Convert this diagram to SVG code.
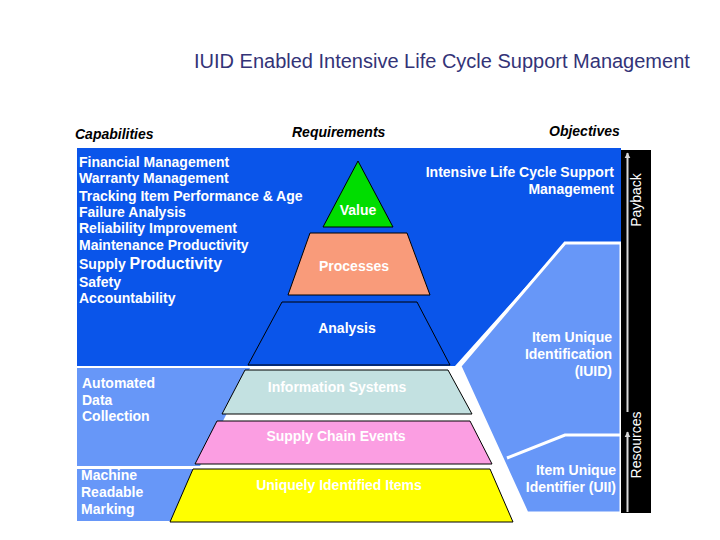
<svg xmlns="http://www.w3.org/2000/svg" width="720" height="540" viewBox="0 0 720 540">
<style>
.t{font-family:"Liberation Sans",Arial,sans-serif;font-weight:bold;font-size:14px;fill:#ffffff}
.h{font-family:"Liberation Sans",Arial,sans-serif;font-weight:bold;font-style:italic;font-size:14px;fill:#000000}
.r{font-family:"Liberation Sans",Arial,sans-serif;font-size:14px;fill:#ffffff}
.m{text-anchor:middle}
.e{text-anchor:end}
.pyr{stroke:#000000;stroke-width:1}
</style>
<defs>
<marker id="ah" viewBox="0 0 10 10" refX="9" refY="5" markerWidth="6" markerHeight="7" orient="auto" markerUnits="userSpaceOnUse">
<path d="M0,0 L10,5 L0,10 z" fill="#d8d8d8"/>
</marker>
</defs>
<rect width="720" height="540" fill="#ffffff"/>
<text x="194" y="68" style="font-family:'Liberation Sans',Arial,sans-serif;font-size:20px;fill:#333377">IUID Enabled Intensive Life Cycle Support Management</text>
<g id="headers">
<text class="h" x="75" y="139">Capabilities</text>
<text class="h" x="292" y="137">Requirements</text>
<text class="h" x="549" y="136">Objectives</text>
</g>
<g id="backgrounds">
<polygon points="77,148 621,148 621,243 565,243 455,366 77,366" fill="#0a55ea"/>
<polygon points="77,368 250,368 200,466 77,466" fill="#6797f8"/>
<polygon points="77,469 205,469 180,521 77,521" fill="#6797f8"/>
<polygon points="565,243 621,243 621,513 527,513 460,366" fill="#6797f8" stroke="#ffffff" stroke-width="3" stroke-linejoin="miter"/>
<polyline points="507,458 565,435 621,435" fill="none" stroke="#ffffff" stroke-width="3"/>
<rect x="621" y="150" width="30" height="363" fill="#000000"/>
</g>
<g id="capabilities">
<text class="t" x="79" y="167">Financial Management</text>
<text class="t" x="79" y="183">Warranty Management</text>
<text class="t" x="79" y="201">Tracking Item Performance &amp; Age</text>
<text class="t" x="79" y="217">Failure Analysis</text>
<text class="t" x="79" y="233">Reliability Improvement</text>
<text class="t" x="79" y="250">Maintenance Productivity</text>
<text class="t" x="79" y="269">Supply <tspan style="font-size:16px">Productivity</tspan></text>
<text class="t" x="79" y="287">Safety</text>
<text class="t" x="79" y="303">Accountability</text>
</g>
<g id="objective">
<text class="t e" x="614" y="177">Intensive Life Cycle Support</text>
<text class="t e" x="614" y="194">Management</text>
</g>
<g id="value"><polygon class="pyr" points="358,161 393,227 323,227" fill="#00dd00"/><text class="t m" x="358" y="215">Value</text></g>
<g id="processes"><polygon class="pyr" points="310,233 407,233 430,295 288,295" fill="#f99b7a"/><text class="t m" x="354" y="271">Processes</text></g>
<g id="analysis"><polygon class="pyr" points="282,302 417,302 450,365 248,365" fill="#0a55ea"/><text class="t m" x="347" y="333">Analysis</text></g>
<g id="info-systems"><polygon class="pyr" points="245,370 448,370 472,414 222,414" fill="#c3e1e1"/><text class="t m" x="337" y="392">Information Systems</text></g>
<g id="supply-chain"><polygon class="pyr" points="217,421 470,421 492,464 195,464" fill="#fb9ee2"/><text class="t m" x="336" y="441">Supply Chain Events</text></g>
<g id="uniquely"><polygon class="pyr" points="193,469 490,469 513,522 170,522" fill="#ffff00"/><text class="t m" x="339" y="490">Uniquely Identified Items</text></g>
<g id="adc">
<text class="t" x="82" y="388">Automated</text>
<text class="t" x="82" y="405">Data</text>
<text class="t" x="82" y="421">Collection</text>
</g>
<g id="mrm">
<text class="t" x="81" y="480">Machine</text>
<text class="t" x="81" y="497">Readable</text>
<text class="t" x="81" y="514">Marking</text>
</g>
<g id="iuid">
<text class="t e" x="612" y="342">Item Unique</text>
<text class="t e" x="612" y="359">Identification</text>
<text class="t e" x="612" y="376">(IUID)</text>
</g>
<g id="uii">
<text class="t e" x="616" y="475">Item Unique</text>
<text class="t e" x="616" y="492">Identifier (UII)</text>
</g>
<g id="connectors">
<line x1="627.5" y1="412" x2="627.5" y2="153" stroke="#d8d8d8" stroke-width="2" marker-end="url(#ah)"/>
<line x1="627.5" y1="512" x2="627.5" y2="432" stroke="#d8d8d8" stroke-width="2" marker-end="url(#ah)"/>
</g>
<g id="axis-labels">
<text class="r m" transform="translate(641,200) rotate(-90)">Payback</text>
<text class="r m" transform="translate(641,445) rotate(-90)">Resources</text>
</g>
</svg>
